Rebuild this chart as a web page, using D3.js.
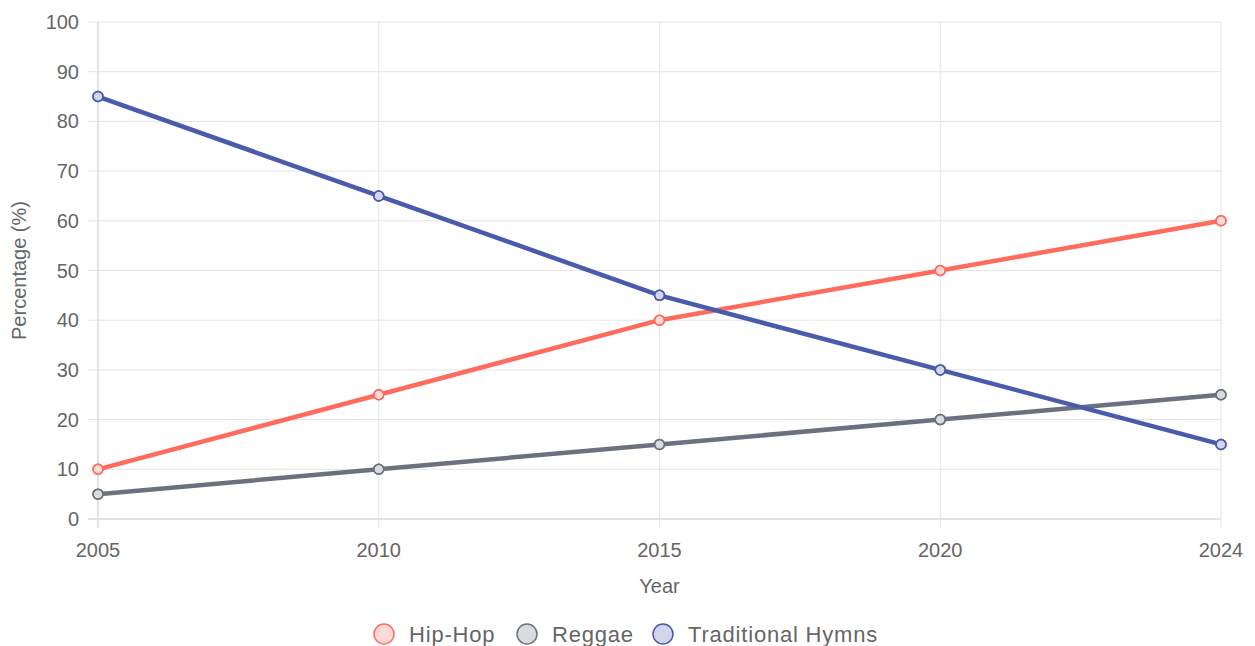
<!DOCTYPE html>
<html>
<head>
<meta charset="utf-8">
<script src="https://cdn.jsdelivr.net/npm/d3@7"></script>
<style>
  body { margin: 0; background: #fff; }
  text { font-family: "Liberation Sans", Arial, sans-serif; fill: #666; }
</style>
</head>
<body>
<script>
const width = 1255;
const height = 646;

// data
const years = ["2005", "2010", "2015", "2020", "2024"];
const hipHop = [10, 25, 40, 50, 60];
const reggae = [5, 10, 15, 20, 25];
const hymns = [85, 65, 45, 30, 15];
const yTicks = [0, 10, 20, 30, 40, 50, 60, 70, 80, 90, 100];

const series = [
    { name: "Hip-Hop", values: hipHop, color: "#ff6b5c", fill: "rgba(255,107,92,0.25)" },
    { name: "Reggae", values: reggae, color: "#6b717e", fill: "rgba(107,113,126,0.25)" },
    { name: "Traditional Hymns", values: hymns, color: "#4a5aad", fill: "rgba(74,90,173,0.25)" }
];

let margin = { top: 22, right: 34, bottom: 127, left: 98 };

let svg = d3.select("body")
    .append("svg")
    .attr("width", width)
    .attr("height", height);

let xScale = d3.scalePoint()
    .domain(years)
    .range([margin.left, width - margin.right]);

let yScale = d3.scaleLinear()
    .domain([0, 100])
    .range([height - margin.bottom, margin.top]);

// grid
let grid = svg.append("g");
grid.selectAll(".hgrid")
    .data(yTicks)
    .join("line")
    .attr("x1", margin.left - 10)
    .attr("x2", width - margin.right)
    .attr("y1", d => yScale(d))
    .attr("y2", d => yScale(d))
    .attr("stroke", "#e4e4e4")
    .attr("stroke-width", 1);

grid.selectAll(".vgrid")
    .data(years)
    .join("line")
    .attr("x1", d => xScale(d))
    .attr("x2", d => xScale(d))
    .attr("y1", margin.top)
    .attr("y2", yScale(0) + 9)
    .attr("stroke", "#e4e4e4")
    .attr("stroke-width", 1);

// axes lines
svg.append("line")
    .attr("x1", margin.left).attr("x2", margin.left)
    .attr("y1", margin.top).attr("y2", yScale(0) + 9)
    .attr("stroke", "#d6d6d6");
svg.append("line")
    .attr("x1", margin.left - 10).attr("x2", width - margin.right)
    .attr("y1", yScale(0)).attr("y2", yScale(0))
    .attr("stroke", "#d6d6d6");

// tick labels
svg.append("g")
    .selectAll("text")
    .data(yTicks)
    .join("text")
    .attr("x", margin.left - 19)
    .attr("y", d => yScale(d))
    .attr("dy", "0.35em")
    .attr("text-anchor", "end")
    .style("font-size", "20px")
    .text(d => d);

svg.append("g")
    .selectAll("text")
    .data(years)
    .join("text")
    .attr("x", d => xScale(d))
    .attr("y", yScale(0) + 38)
    .attr("text-anchor", "middle")
    .style("font-size", "20px")
    .text(d => d);

// axis titles
svg.append("text")
    .text("Percentage (%)")
    .style("font-size", "20px")
    .attr("text-anchor", "middle")
    .attr("transform", `translate(26, ${(margin.top + yScale(0)) / 2}) rotate(270)`);

svg.append("text")
    .text("Year")
    .style("font-size", "20px")
    .attr("text-anchor", "middle")
    .attr("x", (margin.left + width - margin.right) / 2)
    .attr("y", 593);

// lines
let line = d3.line()
    .x((d, i) => xScale(years[i]))
    .y(d => yScale(d));

series.forEach(s => {
    svg.append("path")
        .datum(s.values)
        .attr("d", line)
        .attr("fill", "none")
        .attr("stroke", s.color)
        .attr("stroke-width", 4.5)
        .attr("stroke-linejoin", "round");
});

series.forEach(s => {
    svg.append("g")
        .selectAll("circle")
        .data(s.values)
        .join("circle")
        .attr("cx", (d, i) => xScale(years[i]))
        .attr("cy", d => yScale(d))
        .attr("r", 5)
        .attr("fill", "#fff")
        .attr("stroke", s.color)
        .attr("stroke-width", 1.5);
    svg.append("g")
        .selectAll("circle")
        .data(s.values)
        .join("circle")
        .attr("cx", (d, i) => xScale(years[i]))
        .attr("cy", d => yScale(d))
        .attr("r", 5)
        .attr("fill", s.fill)
        .attr("stroke", s.color)
        .attr("stroke-width", 1.5);
});

// legend
let legendX = [384, 527, 663];
let legend = svg.append("g");
series.forEach((s, i) => {
    legend.append("circle")
        .attr("cx", legendX[i])
        .attr("cy", 634)
        .attr("r", 10)
        .attr("fill", s.fill)
        .attr("stroke", s.color)
        .attr("stroke-width", 1.5);
    legend.append("text")
        .attr("x", legendX[i] + 25)
        .attr("y", 634)
        .attr("dy", "0.35em")
        .style("font-size", "22px")
        .style("letter-spacing", "0.8px")
        .text(s.name);
});
</script>
</body>
</html>
